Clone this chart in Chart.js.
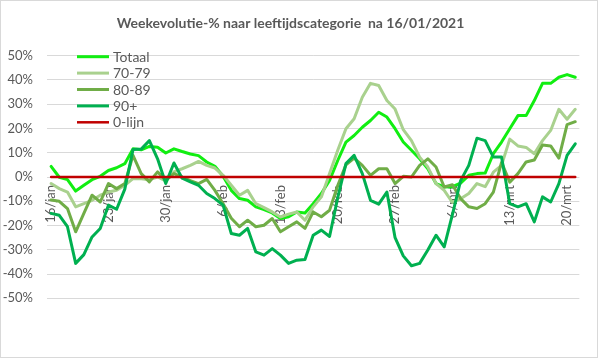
<!DOCTYPE html>
<html><head><meta charset="utf-8">
<script src="https://cdn.jsdelivr.net/npm/chart.js@4/dist/chart.umd.min.js"></script>
<style>html,body{margin:0;padding:0;background:#fff;}canvas{display:block;}</style>
</head><body>
<canvas id="c" width="599" height="359"></canvas>
<script>
const chartTitle = 'Weekevolutie-% naar leeftijdscategorie  na 16/01/2021';
const dates = ['16/jan','17/jan','18/jan','19/jan','20/jan','21/jan','22/jan','23/jan','24/jan','25/jan','26/jan','27/jan','28/jan','29/jan','30/jan','31/jan',
'1/feb','2/feb','3/feb','4/feb','5/feb','6/feb','7/feb','8/feb','9/feb','10/feb','11/feb','12/feb','13/feb','14/feb','15/feb','16/feb','17/feb','18/feb','19/feb','20/feb','21/feb','22/feb','23/feb','24/feb','25/feb','26/feb','27/feb','28/feb',
'1/mrt','2/mrt','3/mrt','4/mrt','5/mrt','6/mrt','7/mrt','8/mrt','9/mrt','10/mrt','11/mrt','12/mrt','13/mrt','14/mrt','15/mrt','16/mrt','17/mrt','18/mrt','19/mrt','20/mrt','21/mrt'];
const yTicks = [-50,-40,-30,-20,-10,0,10,20,30,40,50];
const seriesNames = ['Totaal','70-79','80-89','90+','0-lijn'];
const totaal = [4.4,-0.1,-1.1,-5.8,-3.4,-1.1,0.3,2.7,3.8,5.5, 11.6,11.2,12.6,12.3,9.9,11.6,10.5,9.5,8.8,6.2, 4.4,0.3,-5.5,-8.9,-9.6,-12.3,-13.4,-14.8,-17.1,-16.4, -14.4,-14.8,-11,-6.8,-1.4,6.8,14.4,17.1,20.5,23.3, 26.7,24.7,19.9,14.4,11,7.5,3.4,-2.7,-4.1,-4, -2.5,0.7,1.4,1.6,9.6,14.4,19.9,25.3,25.3,31.5, 38.6,38.6,41.1,42.2,41.1];
const age7079 = [-2.7,-4.8,-6.2,-12.3,-11,-9.6,-7.5,-6.2,-5.5,-3.4, -0.7,-0.7,-1.1,0,-1.6,2.1,3.4,4.8,6.4,4.8, 3.7,0.7,-3.4,-7.5,-5.5,-11,-12.6,-14.4,-16.5,-15.3, -14.4,-17.8,-12.3,-8.2,1.4,11,19.9,24,32.9,38.6, 37.7,31.5,28,19.5,15,8.2,4.1,-2.7,-5.5,-10.5, -9,-6.8,-2.7,-4,2,4.8,15.6,12.8,12.2,9.6, 15,19.2,27.9,23.8,27.9];
const age8089 = [-9.5,-10,-13,-22.6,-15,-7.5,-10.3,-2.7,-4.8,-2.7, 8.9,1.4,-2,2.1,-1.4,1.4,0,-1.5,-2.7,-1, -5.5,-11,-17,-20.5,-17.8,-20.5,-19.9,-17.1,-22.6,-20.5, -18.5,-21.2,-14.4,-16.4,-13.7,-3.5,5,7.8,4.8,0.7, 3.4,3.4,-2.7,0.3,0,4.8,7.5,4.1,-4.1,-3.2, -8.9,-12.3,-13,-11,-6.2,6,-2.1,1.4,6.2,7, 13.2,12.8,7.8,21.6,22.8];
const age90 = [-15,-15.8,-20.5,-35.6,-32,-24.7,-21.2,-11.6,-13.3,-5, 11.3,11.5,15,7.5,-2.7,5.8,-0.5,-2,-3.4,-6.8, -8.9,-11.6,-23.3,-24,-21.2,-30.9,-32.2,-29.5,-32.2,-35.6, -34.3,-34,-24,-21.9,-24.5,-8.5,5.5,8.9,1.4,-9.6, -11.2,-6.2,-25,-32.5,-36.6,-35.6,-30.1,-24,-28.8,-15.5, -1.5,4.8,16,15,8.2,8.2,-11,-12.3,-11,-18.5, -8.2,-10.3,-2.7,8.9,13.7];
const zeroLine = [0,0,0,0,0,0,0,0,0,0, 0,0,0,0,0,0,0,0,0,0, 0,0,0,0,0,0,0,0,0,0, 0,0,0,0,0,0,0,0,0,0, 0,0,0,0,0,0,0,0,0,0, 0,0,0,0,0,0,0,0,0,0, 0,0,0,0,0];

const colors = ['#11ee11','#a9d18e','#70ad47','#00b050','#c00000'];
const widths = [3,3,3,3,2.5];
const seriesData = [totaal, age7079, age8089, age90, zeroLine];
const FONT = 'Lato';
const TXT = '#595959';

const extras = {
  id: 'extras',
  afterDraw(chart) {
    const ctx = chart.ctx;
    ctx.save();
    ctx.font = '14px ' + FONT;
    ctx.textBaseline = 'middle';
    ctx.textAlign = 'left';
    chart.data.datasets.forEach((ds, i) => {
      const y = 56.7 + i * 16.4;
      ctx.strokeStyle = ds.borderColor;
      ctx.lineWidth = ds.borderWidth;
      ctx.lineCap = 'butt';
      ctx.beginPath(); ctx.moveTo(77, y); ctx.lineTo(109, y); ctx.stroke();
      ctx.fillStyle = TXT;
      ctx.fillText(ds.label, 113, y + 0.5);
    });
    ctx.strokeStyle = '#d9d9d9';
    ctx.lineWidth = 1;
    ctx.strokeRect(0.5, 0.5, 597, 357);
    ctx.restore();
  }
};

new Chart(document.getElementById('c'), {
  type: 'line',
  data: {
    labels: dates,
    datasets: seriesNames.map((n, i) => ({
      label: n,
      data: seriesData[i],
      borderColor: colors[i],
      backgroundColor: colors[i],
      borderWidth: widths[i],
      pointRadius: 0,
      tension: 0,
      borderJoinStyle: 'round',
      borderCapStyle: 'round',
      fill: false,
      order: 5 - i
    }))
  },
  options: {
    responsive: false,
    animation: false,
    devicePixelRatio: 1,
    layout: { padding: { left: 0, right: 18, top: 0, bottom: 60.7 } },
    plugins: {
      legend: { display: false },
      tooltip: { enabled: false },
      title: {
        display: true,
        text: chartTitle,
        color: TXT,
        font: { family: FONT, size: 14, weight: 'bold', lineHeight: 1.2 },
        padding: { top: 15.5, bottom: 23.4 }
      }
    },
    scales: {
      x: {
        type: 'category',
        offset: true,
        position: { y: 0 },
        grid: { display: false, drawTicks: false },
        border: { display: false },
        ticks: {
          autoSkip: false,
          minRotation: 90,
          maxRotation: 90,
          padding: 8,
          color: TXT,
          font: { family: FONT, size: 13 },
          callback: function(v, idx) { return idx % 7 === 0 ? dates[idx] : ''; }
        }
      },
      y: {
        min: -50, max: 50,
        afterFit(s) { s.width = 47; },
        afterBuildTicks(s) { s.ticks = yTicks.map(v => ({ value: v })); },
        grid: { color: '#d9d9d9', lineWidth: 1, drawTicks: false },
        border: { display: false },
        ticks: {
          padding: 14,
          color: TXT,
          font: { family: FONT, size: 13 },
          callback: v => v + '%'
        }
      }
    }
  },
  plugins: [extras]
});
</script>
</body></html>
